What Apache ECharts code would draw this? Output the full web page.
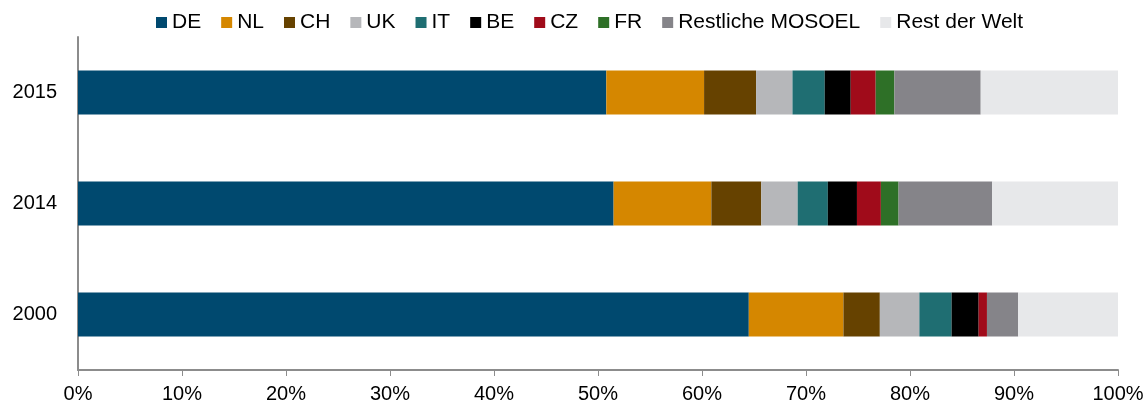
<!DOCTYPE html>
<html>
<head>
<meta charset="utf-8">
<script src="https://cdn.jsdelivr.net/npm/echarts@6/dist/echarts.min.js"></script>
<style>
  html, body { margin: 0; padding: 0; background: #fff; }
  #chart { width: 1148px; height: 405px; }
</style>
</head>
<body>
<div id="chart"></div>
<script>
// categories, bottom to top
const years = ['2000', '2014', '2015'];

// shares in %, same order as years
const seriesNames = ['DE', 'NL', 'CH', 'UK', 'IT', 'BE', 'CZ', 'FR', 'Restliche MOSOEL', 'Rest der Welt'];
const de      = [64.5, 51.5, 50.8];
const nl      = [9.1, 9.4, 9.4];
const ch      = [3.5, 4.8, 5.0];
const uk      = [3.8, 3.5, 3.5];
const it      = [3.1, 2.9, 3.1];
const be      = [2.6, 2.8, 2.5];
const cz      = [0.8, 2.3, 2.4];
const fr      = [0.0, 1.7, 1.8];
const mosoel  = [3.0, 9.0, 8.3];
const restWelt = [9.6, 12.1, 13.2];
const seriesValues = [de, nl, ch, uk, it, be, cz, fr, mosoel, restWelt];

const colors = ['#00496f', '#d58700', '#664200', '#b6b7ba', '#1f6e72', '#000000', '#a00b1a', '#2e7027', '#858489', '#e7e8ea'];

const axisColor = '#8c8c8c';
const textColor = '#000';
const fontFamily = '"Liberation Sans", Arial, sans-serif';

const chart = echarts.init(document.getElementById('chart'));
chart.setOption({
  animation: false,
  color: colors,
  textStyle: { fontFamily: fontFamily },
  legend: {
    top: 7,
    left: 151,
    icon: 'rect',
    itemWidth: 11,
    itemHeight: 11,
    itemGap: 20,
    textStyle: { fontSize: 21, color: textColor, fontFamily: fontFamily },
    data: seriesNames
  },
  grid: {
    left: 78,
    right: 30,
    top: 37,
    bottom: 35,
    containLabel: false
  },
  xAxis: {
    type: 'value',
    min: 0,
    max: 100,
    interval: 10,
    axisLine: { show: true, lineStyle: { color: axisColor, width: 2 } },
    axisTick: { show: true, length: 6, lineStyle: { color: axisColor, width: 1 } },
    axisLabel: {
      formatter: '{value}%',
      fontSize: 20,
      color: textColor,
      margin: 14,
      fontFamily: fontFamily
    },
    splitLine: { show: false }
  },
  yAxis: {
    type: 'category',
    data: years,
    axisLine: { show: true, lineStyle: { color: axisColor, width: 2 } },
    axisTick: { show: false },
    axisLabel: { fontSize: 20, color: textColor, margin: 21, fontFamily: fontFamily },
    splitLine: { show: false }
  },
  series: seriesNames.map((name, i) => ({
    name: name,
    type: 'bar',
    stack: 'total',
    barWidth: 44,
    data: seriesValues[i],
    itemStyle: { color: colors[i] }
  }))
});
</script>
</body>
</html>
